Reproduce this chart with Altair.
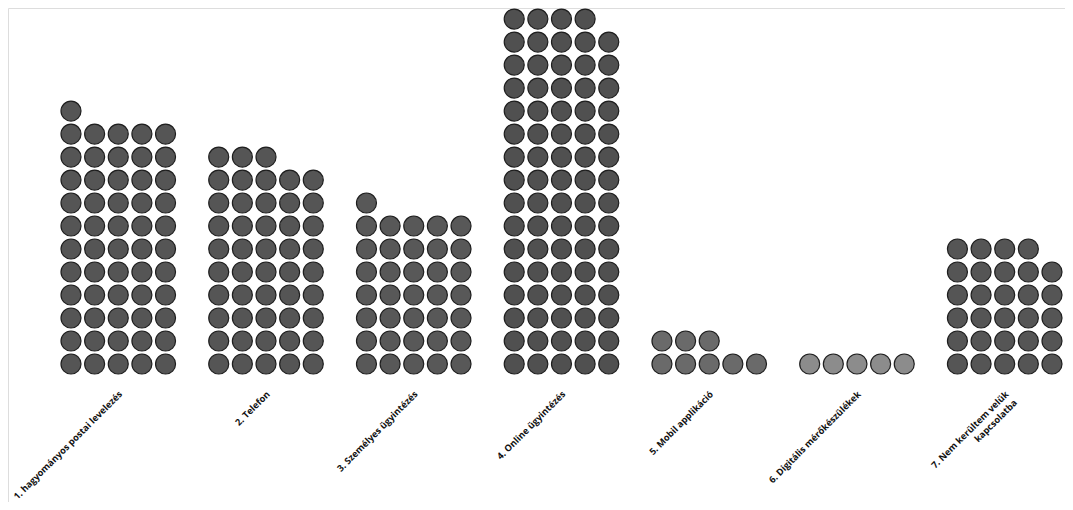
import altair as alt
import pandas as pd

categories = [
    "1. hagyományos postai levelezés",
    "2. Telefon",
    "3. Személyes ügyintézés",
    "4. Online ügyintézés",
    "5. Mobil applikáció",
    "6. Digitális mérőkészülékek",
    "7. Nem kerültem velük\nkapcsolatba",
]
counts = [56, 48, 36, 79, 8, 5, 29]
shades = ["#555555", "#555555", "#585858", "#505050", "#6a6a6a", "#8c8c8c", "#555555"]

COLS = 5
GROUP_STEP = 6.25

rows = []
for g, (cat, n) in enumerate(zip(categories, counts)):
    for i in range(n):
        rows.append({
            "cat": cat,
            "x": g * GROUP_STEP + (i % COLS),
            "y": i // COLS,
            "shade": shades[g],
        })
dots = pd.DataFrame(rows)

labels = pd.DataFrame({
    "cat": categories,
    "x": [g * GROUP_STEP + 2.1 for g in range(len(categories))],
    "y": [-1.25] * len(categories),
})

xs = alt.Scale(domain=[-2.665, 42.05], nice=False, zero=False)
ys = alt.Scale(domain=[-6.0, 15.48], nice=False, zero=False)

points = alt.Chart(dots).mark_circle(opacity=1, stroke="#1e1e1e", strokeWidth=1.2).encode(
    x=alt.X("x:Q", scale=xs, axis=None),
    y=alt.Y("y:Q", scale=ys, axis=None),
    size=alt.value(400),
    fill=alt.Fill("shade:N", scale=None),
)

text = alt.Chart(labels).mark_text(
    angle=315, align="right", baseline="middle", fontSize=9.2,
    font="Open Sans", fontWeight="bold", color="#111111", lineHeight=12,
    lineBreak="\n",
).encode(
    x=alt.X("x:Q", scale=xs, axis=None),
    y=alt.Y("y:Q", scale=ys, axis=None),
    text=alt.Text("cat:N"),
)

chart = alt.layer(points, text).properties(
    width=1057, height=494, padding=0,
    autosize=alt.AutoSizeParams(type="none"),
).configure_view(stroke=None).configure(background="white")

chart.save("out.html", embed_options={"renderer": "svg", "actions": False})
